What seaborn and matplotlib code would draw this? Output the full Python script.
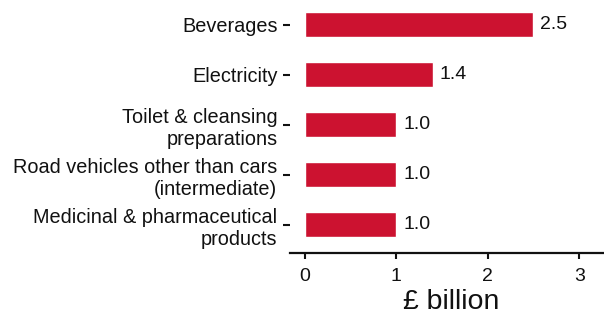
import matplotlib
matplotlib.use("Agg")
import matplotlib.pyplot as plt
import seaborn as sns
import pandas as pd

categories = ["Beverages", "Electricity", "Toilet & cleansing\npreparations",
              "Road vehicles other than cars\n(intermediate)",
              "Medicinal & pharmaceutical\nproducts"]
values = [2.5, 1.4, 1.0, 1.0, 1.0]
value_labels = ["2.5", "1.4", "1.0", "1.0", "1.0"]
xticks = [0, 1, 2, 3]

sns.set_theme(style="white")
plt.rcParams['font.family'] = ['Liberation Sans', 'DejaVu Sans']

df = pd.DataFrame({"category": categories, "value": values})

fig = plt.figure(figsize=(6.04, 3.16), dpi=100)
ax = fig.add_axes([0.48, 0.1994, 0.52, 0.8006])
sns.barplot(data=df, x="value", y="category", color="#CC1230", width=0.5,
            saturation=1, ax=ax, orient="h")

for i, (v, lab) in enumerate(zip(values, value_labels)):
    ax.annotate(lab, xy=(v, i), xytext=(5, 0), textcoords="offset points",
                va="center", ha="left", fontsize=14, color="#111111")

ax.set_xlim(-0.16, 3.27)
ax.set_ylim(4.56, -0.5)
ax.set_xticks(xticks)
ax.set_xticklabels([str(t) for t in xticks])
ax.set_xlabel("£ billion", fontsize=20.5, color="#111111", labelpad=3)
ax.xaxis.label.set_x(0.514)
ax.set_ylabel("")

for s in ["top", "right", "left"]:
    ax.spines[s].set_visible(False)
ax.spines["bottom"].set_linewidth(1.6)
ax.spines["bottom"].set_color("#111111")

ax.tick_params(axis="x", which="both", bottom=True, length=4, width=1.5,
               colors="#111111", labelsize=14, pad=7)
ax.tick_params(axis="y", which="both", left=True, length=5, width=1.5,
               colors="#111111", labelsize=14.3, pad=4)
for lab in ax.get_yticklabels():
    lab.set_horizontalalignment("right")
    lab.set_multialignment("right")
    lab.set_linespacing(1.22)

fig.savefig("out.png", dpi=100)
